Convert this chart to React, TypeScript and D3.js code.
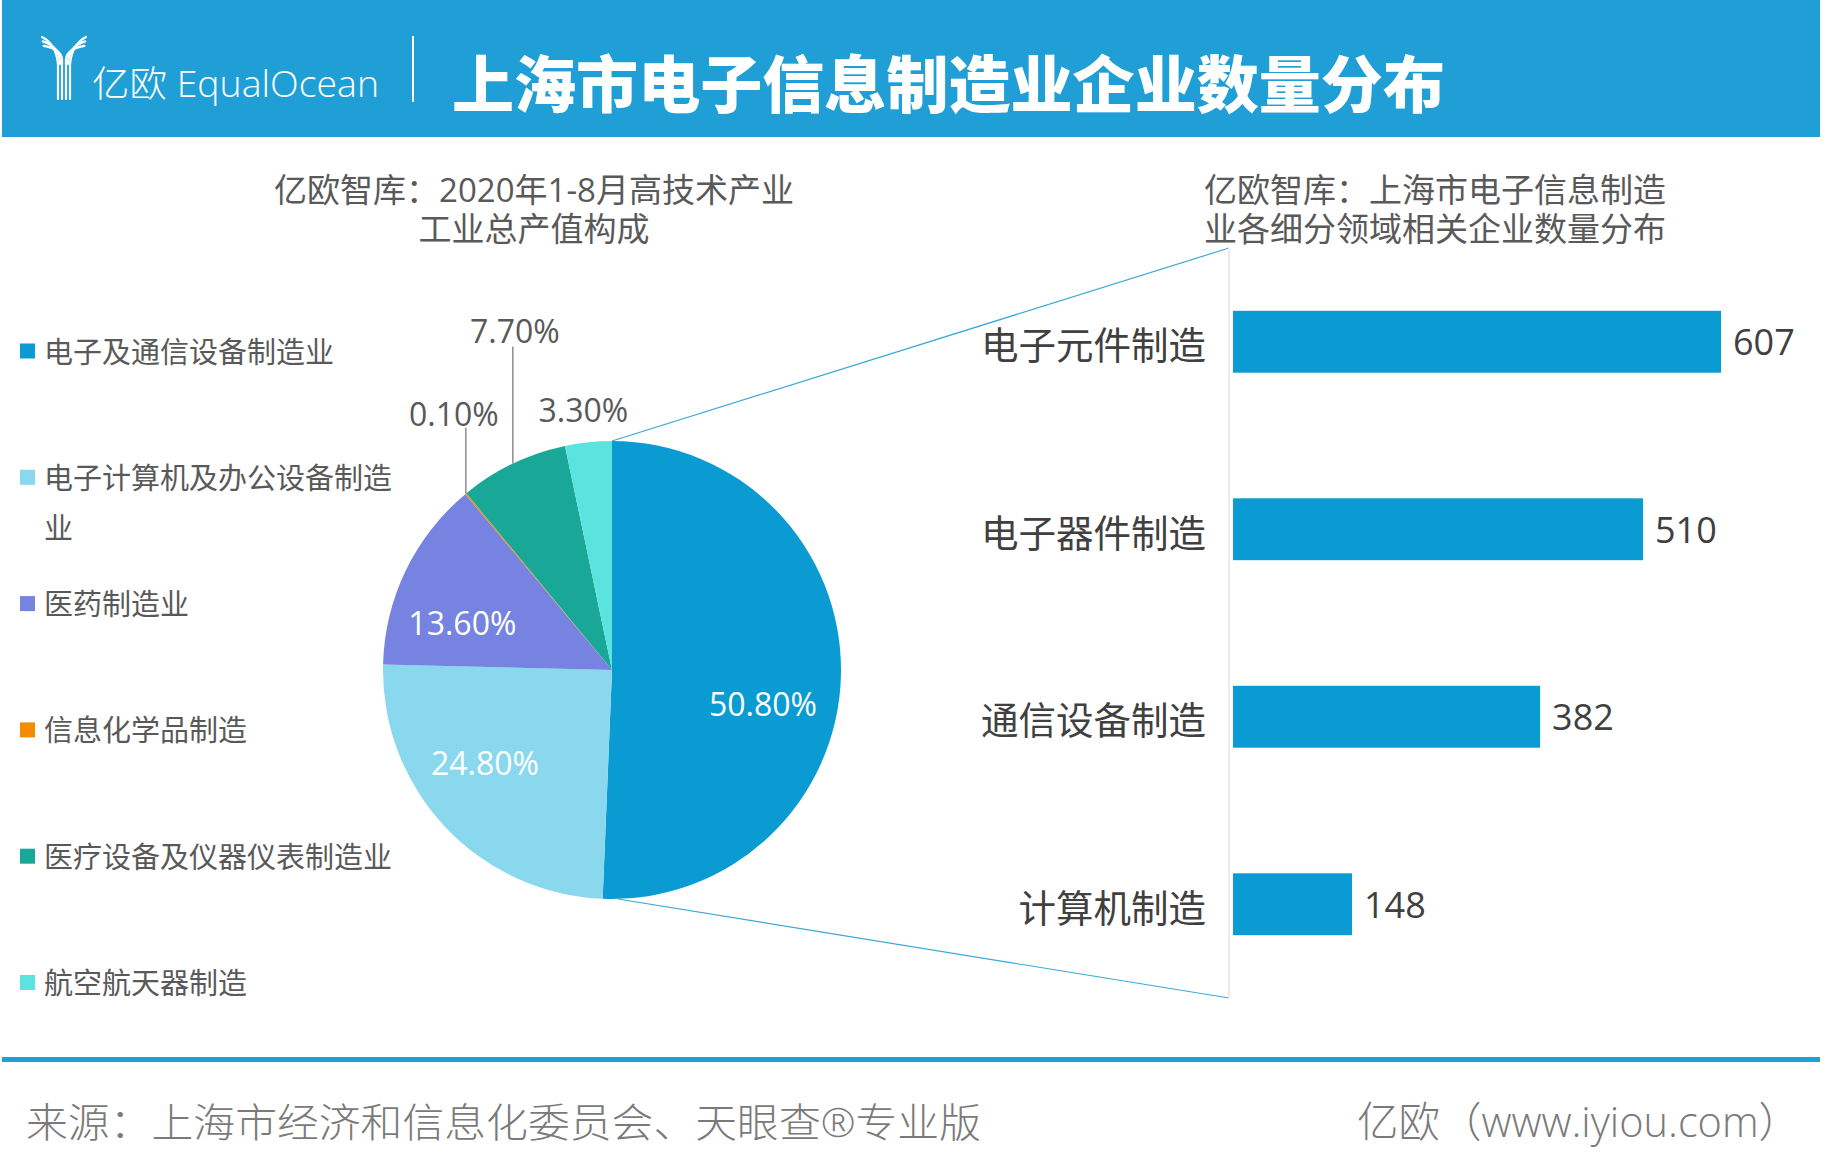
import React from 'react';
import * as d3 from 'd3';

// ---------- data ----------
const pieNames = ['电子及通信设备制造业', '电子计算机及办公设备制造业', '医药制造业', '信息化学品制造', '医疗设备及仪器仪表制造业', '航空航天器制造'];
const pieValues = [50.8, 24.8, 13.6, 0.1, 7.7, 3.3];
const pieLabels = ['50.80%', '24.80%', '13.60%', '0.10%', '7.70%', '3.30%'];
const pieColors = ['#0a9bd3', '#89d8ee', '#7683e0', '#f28c00', '#19a898', '#5be3e0'];
const legendLines = [['电子及通信设备制造业'], ['电子计算机及办公设备制造', '业'], ['医药制造业'], ['信息化学品制造'], ['医疗设备及仪器仪表制造业'], ['航空航天器制造']];

const barCategories = ['电子元件制造', '电子器件制造', '通信设备制造', '计算机制造'];
const barValues = [607, 510, 382, 148];

const pieTitle = ['亿欧智库：2020年1-8月高技术产业', '工业总产值构成'];
const barTitle = ['亿欧智库：上海市电子信息制造', '业各细分领域相关企业数量分布'];
const mainTitle = '上海市电子信息制造业企业数量分布';
const sourceText = '来源：上海市经济和信息化委员会、天眼查®专业版';
const siteText = '亿欧（www.iyiou.com）';

// ---------- style / layout ----------
const W = 1827;
const H = 1176;
const BLUE = '#1f9fd6';
const FONT = "'Open Sans', 'Noto Sans CJK SC', sans-serif";
const CJK = "'Noto Sans CJK SC', sans-serif";
const TXT = '#595959';

const cx = 612, cy = 670, R = 229;
// label placement: inside (radius, nudge) or outside (leader length, label offset)
const labelInside = [true, true, true, false, false, false];
const labelNudge = [[-4, 30], [-14, -14], [-10, 20], [-12, -14], [2, -16], [-5, -33]];
const leaderLen = [0, 0, 0, 66, 117, 0];

export default function App() {
  const pie = d3.pie<number>().sort(null).startAngle(0).endAngle(2 * Math.PI);
  const arcs = pie(pieValues);
  const arc = d3.arc<d3.PieArcDatum<number>>().innerRadius(0).outerRadius(R);

  const y = d3.scaleBand<string>().domain(barCategories).range([248, 998]).paddingInner(0.67).paddingOuter(0.335);
  const x = d3.scaleLinear().domain([0, d3.max(barValues) as number]).range([1233, 1721]);

  const pt = (a: number, r: number) => [cx + r * Math.sin(a), cy - r * Math.cos(a)];

  return (
    <div style={{ position: 'absolute', left: 0, top: 0 }}>
      <svg width={W} height={H} style={{ display: 'block', background: '#fff' }}>
        {/* header */}
        <rect x={2} y={0} width={1818} height={137} fill={BLUE} />
        <g stroke="#fff" strokeWidth={2.2} fill="none" strokeLinecap="round">
          {[0, 4, 8].map((o, i) => (
            <path key={'l' + i} d={`M ${42 + o * 0.2} ${37 + o * 1.1} Q ${56 + o} ${44 + o * 0.6} ${58 + o * 0.5} ${64}`} />
          ))}
          {[0, 4, 8].map((o, i) => (
            <path key={'r' + i} d={`M ${86 - o * 0.2} ${37 + o * 1.1} Q ${72 - o} ${44 + o * 0.6} ${70 - o * 0.5} ${64}`} />
          ))}
          {[58, 62, 66, 70].map((xx, i) => (
            <line key={'s' + i} x1={xx} x2={xx} y1={62} y2={99} />
          ))}
        </g>
        <text x={92} y={83} fill="#fff" fontFamily={FONT} fontWeight={300} fontSize={36} dominantBaseline="central" textLength={287} lengthAdjust="spacingAndGlyphs">
          亿欧 EqualOcean
        </text>
        <line x1={413} x2={413} y1={36} y2={102} stroke="#fff" strokeWidth={2} />
        <text x={452} y={81} fill="#fff" fontFamily={CJK} fontWeight={900} fontSize={62} dominantBaseline="central" textLength={993} lengthAdjust="spacingAndGlyphs">
          {mainTitle}
        </text>

        {/* subtitles */}
        {pieTitle.map((t, i) => (
          <text key={'pt' + i} x={534} y={189 + i * 39} textAnchor="middle" dominantBaseline="central" fill={TXT} fontFamily={FONT} fontSize={33}>
            {t}
          </text>
        ))}
        {barTitle.map((t, i) => (
          <text key={'bt' + i} x={1204} y={189 + i * 39} dominantBaseline="central" fill={TXT} fontFamily={FONT} fontSize={33}>
            {t}
          </text>
        ))}

        {/* legend */}
        {legendLines.map((lines, i) => {
          const yy = 351 + i * 126.3;
          return (
            <g key={'lg' + i}>
              <rect x={20} y={yy - 7.5} width={15} height={15} fill={pieColors[i]} />
              {lines.map((ln, j) => (
                <text key={j} x={44} y={yy + j * 50} dominantBaseline="central" fill={TXT} fontFamily={FONT} fontSize={29}>
                  {ln}
                </text>
              ))}
            </g>
          );
        })}

        {/* callout lines */}
        <line x1={cx} y1={cy - R} x2={1229} y2={248} stroke="#3ba9d6" strokeWidth={1.2} />
        <line x1={cx + 6} y1={cy + R} x2={1229} y2={998} stroke="#3ba9d6" strokeWidth={1.2} />
        <line x1={1229} x2={1229} y1={248} y2={998} stroke="#ececec" strokeWidth={2} />

        {/* pie */}
        <g transform={`translate(${cx},${cy})`}>
          {arcs.map((a, i) => (
            <path key={'a' + i} d={arc(a) || ''} fill={pieColors[i]} />
          ))}
        </g>
        {arcs.map((a, i) => {
          const mid = (a.startAngle + a.endAngle) / 2;
          if (labelInside[i]) {
            const [px, py] = pt(mid, 155);
            return (
              <text key={'pl' + i} x={px + labelNudge[i][0]} y={py + labelNudge[i][1]} textAnchor="middle" dominantBaseline="central" fill="#fff" fontFamily={FONT} fontSize={32}>
                {pieLabels[i]}
              </text>
            );
          }
          const [px, py] = pt(mid, R);
          const topY = py - leaderLen[i];
          return (
            <g key={'pl' + i}>
              {leaderLen[i] > 0 && <line x1={px} x2={px} y1={py} y2={topY} stroke="#8c8c8c" strokeWidth={1.5} />}
              <text x={px + labelNudge[i][0]} y={topY + labelNudge[i][1]} textAnchor="middle" dominantBaseline="central" fill={TXT} fontFamily={FONT} fontSize={32}>
                {pieLabels[i]}
              </text>
            </g>
          );
        })}

        {/* bars */}
        {barCategories.map((c, i) => {
          const by = y(c) as number;
          const bh = y.bandwidth();
          return (
            <g key={'b' + i}>
              <rect x={x(0)} y={by} width={x(barValues[i]) - x(0)} height={bh} fill="#0a9bd3" />
              <text x={1206} y={by + bh / 2 + 3} textAnchor="end" dominantBaseline="central" fill="#404040" fontFamily={FONT} fontSize={37.5}>
                {c}
              </text>
              <text x={x(barValues[i]) + 12} y={by + bh / 2} dominantBaseline="central" fill="#404040" fontFamily={FONT} fontSize={36}>
                {barValues[i]}
              </text>
            </g>
          );
        })}

        {/* footer */}
        <rect x={2} y={1057} width={1818} height={5} fill={BLUE} />
        <text x={26} y={1121} dominantBaseline="central" fill="#7a7a7a" fontFamily={FONT} fontWeight={300} fontSize={40} textLength={955} lengthAdjust="spacingAndGlyphs">
          {sourceText}
        </text>
        <text x={1357} y={1121} dominantBaseline="central" fill="#7a7a7a" fontFamily={FONT} fontWeight={300} fontSize={41.5}>
          {siteText}
        </text>
      </svg>
    </div>
  );
}
